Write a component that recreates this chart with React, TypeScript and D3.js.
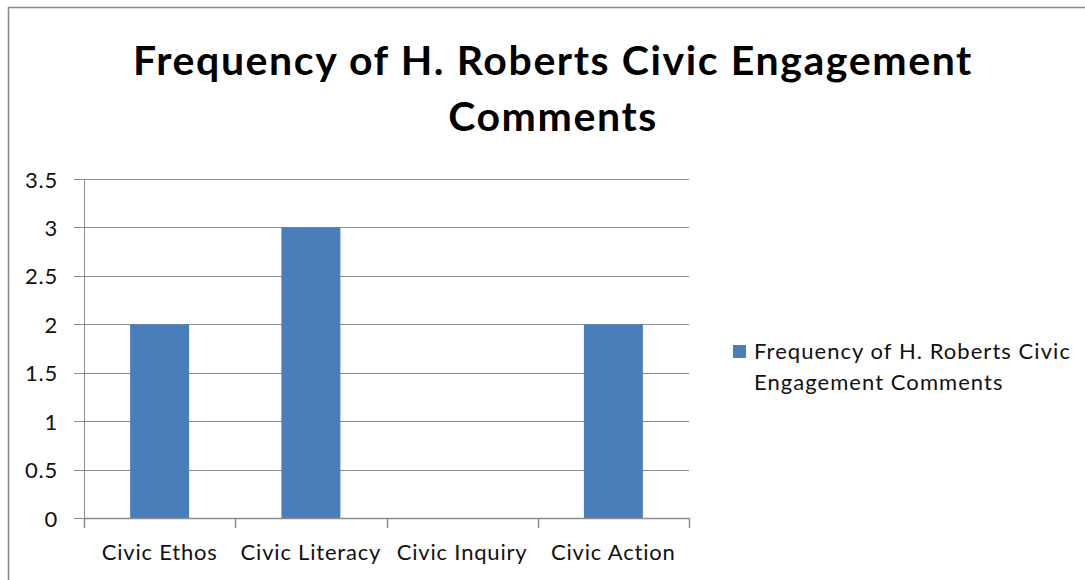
import React from 'react';
import * as d3 from 'd3';

const categories = ['Civic Ethos', 'Civic Literacy', 'Civic Inquiry', 'Civic Action'];
const values = [2, 3, 0, 2];
const yTicks = [0, 0.5, 1, 1.5, 2, 2.5, 3, 3.5];
const seriesName = 'Frequency of H. Roberts Civic Engagement Comments';
const titleLines = ['Frequency of H. Roberts Civic Engagement', 'Comments'];
const legendLines = ['Frequency of H. Roberts Civic', 'Engagement Comments'];

const W = 1085;
const H = 580;
const font = 'Lato, "Open Sans", sans-serif';
const barColor = '#4a7ebb';
const gridColor = '#8c8c8c';

const App: React.FC = () => {
  const plot = { left: 84, right: 689, top: 179, bottom: 518 };

  const x = d3.scaleBand<string>()
    .domain(categories)
    .range([plot.left, plot.right])
    .paddingInner(0.61)
    .paddingOuter(0.305);

  const xEdge = d3.scaleLinear()
    .domain([0, categories.length])
    .range([plot.left, plot.right]);

  const y = d3.scaleLinear()
    .domain([0, 3.5])
    .range([plot.bottom, plot.top]);

  return (
    <svg width={W} height={H} style={{ position: 'fixed', left: 0, top: 0, background: '#fff' }}>
      <rect x={8.5} y={7.5} width={W + 10} height={H + 10} fill="#fff" stroke="#888" strokeWidth={1.5} />

      {/* title */}
      {titleLines.map((l, i) => (
        <text key={i} x={553} y={75 + i * 56} textAnchor="middle" fontFamily={font} fontWeight="bold"
          fontSize={41} letterSpacing={1.6} fill="#000">{l}</text>
      ))}

      {/* grid + y ticks */}
      {yTicks.map(t => (
        <g key={t}>
          <line x1={plot.left - 10} x2={plot.right} y1={Math.round(y(t)) + 0.5} y2={Math.round(y(t)) + 0.5}
            stroke={gridColor} strokeWidth={1} />
          <text x={58} y={y(t)} textAnchor="end" dominantBaseline="central"
            fontFamily={font} fontSize={22} letterSpacing={0.8} fill="#111">{t}</text>
        </g>
      ))}

      {/* y axis line */}
      <line x1={plot.left + 0.5} x2={plot.left + 0.5} y1={plot.top} y2={plot.bottom} stroke={gridColor} strokeWidth={1} />

      {/* bars */}
      {categories.map((c, i) => (
        values[i] > 0 ? (
          <rect key={c} x={x(c)} y={y(values[i])} width={x.bandwidth()} height={y(0) - y(values[i])} fill={barColor} />
        ) : null
      ))}

      {/* x axis */}
      <line x1={plot.left} x2={plot.right} y1={plot.bottom + 0.5} y2={plot.bottom + 0.5} stroke={gridColor} strokeWidth={1.5} />
      {d3.range(categories.length + 1).map(i => (
        <line key={i} x1={Math.round(xEdge(i)) + 0.5} x2={Math.round(xEdge(i)) + 0.5}
          y1={plot.bottom} y2={plot.bottom + 10} stroke={gridColor} strokeWidth={1.5} />
      ))}
      {categories.map(c => (
        <text key={c} x={(x(c) ?? 0) + x.bandwidth() / 2} y={560} textAnchor="middle"
          fontFamily={font} fontSize={22} letterSpacing={0.8} fill="#111">{c}</text>
      ))}

      {/* legend */}
      <g aria-label={seriesName}>
        <rect x={733} y={345} width={13} height={13} fill={barColor} />
        {legendLines.map((l, i) => (
          <text key={i} x={754} y={359 + i * 31} fontFamily={font} fontSize={22}
            letterSpacing={1.05} fill="#111">{l}</text>
        ))}
      </g>
    </svg>
  );
};

export default App;
